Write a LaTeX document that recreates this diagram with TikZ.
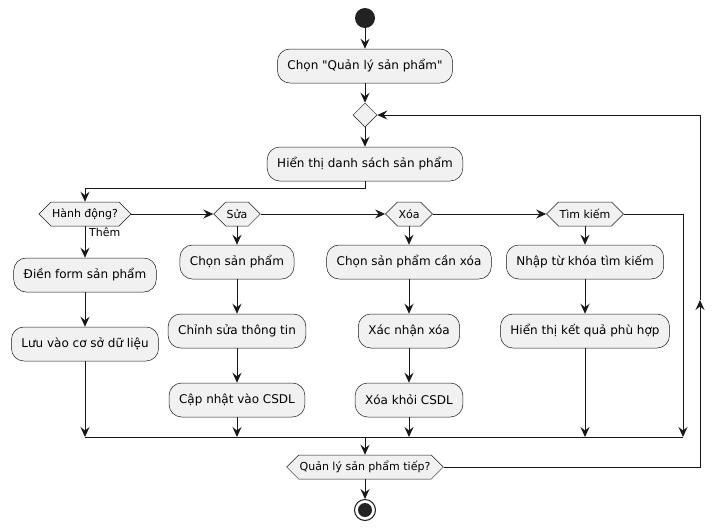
\documentclass[tikz,border=0pt]{standalone}
\usepackage{fontspec}
\setmainfont{DejaVu Sans}
\newfontfamily\plainfont{DejaVu Sans}
\usetikzlibrary{shapes.symbols,shapes.geometric,arrows.meta}
\definecolor{linec}{HTML}{181818}
\definecolor{boxc}{HTML}{F1F1F1}
\definecolor{dotc}{HTML}{222222}
\begin{document}
\begin{tikzpicture}[x=1pt,y=-1pt,
  act/.style={draw=linec, fill=boxc, rounded corners=12.5pt, minimum height=34pt, inner xsep=10pt, inner ysep=0pt, line width=0.5pt, font=\fontsize{12}{14}\selectfont},
  dec/.style={signal, signal to=east and west, signal pointer angle=90, draw=linec, fill=boxc, minimum height=24pt, inner xsep=1pt, inner ysep=0pt, line width=0.5pt, font=\fontsize{11}{13}\selectfont},
  arr/.style={-{Stealth[length=10pt,width=9pt,inset=3.5pt]}, draw=linec, line width=1pt},
  ln/.style={draw=linec, line width=1pt},
  lbl/.style={font=\fontsize{11}{13}\selectfont, inner sep=0pt}]
\useasboundingbox (0,0) rectangle (726,531);
\fill[white] (0,0) rectangle (726,531);

\node[circle, fill=dotc, minimum size=20pt, inner sep=0pt] (start) at (365,18) {};
\node[act, font=\fontsize{12}{14}\plainfont] (c1) at (365,66) {Chọn "Quản lý sản phẩm"};
\node[diamond, draw=linec, fill=boxc, line width=0.5pt, minimum size=24pt, inner sep=0pt] (m) at (365,115) {};
\node[act] (h) at (365,164) {Hiển thị danh sách sản phẩm};

\node[dec] (d1) at (85,214) {Hành động?};
\node[dec] (d2) at (237,214) {Sửa};
\node[dec] (d3) at (409,214) {Xóa};
\node[dec] (d4) at (585,214) {Tìm kiếm};
\node[lbl, anchor=west] (them) at (89,232) {Thêm};

\node[act] (a1) at (85,275) {Điền form sản phẩm};
\node[act] (a2) at (85,344) {Lưu vào cơ sở dữ liệu};
\node[act] (b1) at (237,262) {Chọn sản phẩm};
\node[act] (b2) at (237,331) {Chỉnh sửa thông tin};
\node[act] (b3) at (237,400) {Cập nhật vào CSDL};
\node[act] (x1) at (409,262) {Chọn sản phẩm cần xóa};
\node[act] (x2) at (409,331) {Xác nhận xóa};
\node[act] (x3) at (409,400) {Xóa khỏi CSDL};
\node[act] (t1) at (585,262) {Nhập từ khóa tìm kiếm};
\node[act] (t2) at (585,331) {Hiển thị kết quả phù hợp};

\node[dec] (q) at (365,467) {Quản lý sản phẩm tiếp?};
\node[circle, draw=linec, fill=white, line width=1pt, minimum size=21pt, inner sep=0pt] (end) at (365,510) {};
\fill[dotc] (end.center) circle (7pt);

\coordinate (barL) at (85,437);
\coordinate (barR) at (683,437);
\coordinate (barM) at (365,437);
\coordinate (hb) at (365,188);
\coordinate (d4r) at (683,214);
\coordinate (lp1) at (700,467);
\coordinate (lp2) at (700,300);
\coordinate (lp3) at (700,115);

\draw[arr] (start) -- (c1);
\draw[arr] (c1) -- (m);
\draw[arr] (m) -- (h);
\draw[arr] (h.south) -- (hb) -| (d1.north);
\draw[arr] (d1.east) -- (d2.west);
\draw[arr] (d2.east) -- (d3.west);
\draw[arr] (d3.east) -- (d4.west);
\draw[arr] (d4.east) -- (d4r) -- (barR);

\draw[arr] (d1.south) -- (a1.north);
\draw[arr] (a1) -- (a2);
\draw[arr] (a2.south) -- (barL);
\draw[arr] (d2.south) -- (b1.north);
\draw[arr] (b1) -- (b2);
\draw[arr] (b2) -- (b3);
\draw[arr] (b3.south) -- (b3.south |- barL);
\draw[arr] (d3.south) -- (x1.north);
\draw[arr] (x1) -- (x2);
\draw[arr] (x2) -- (x3);
\draw[arr] (x3.south) -- (x3.south |- barL);
\draw[arr] (d4.south) -- (t1.north);
\draw[arr] (t1) -- (t2);
\draw[arr] (t2.south) -- (t2.south |- barL);

\draw[ln] (barL) -- (barR);
\draw[arr] (barM) -- (q.north);
\draw[arr] (q.south) -- (end);

\draw[arr] (q.east) -- (lp1) -- (lp2);
\draw[arr] (lp2) -- (lp3) -- (m.east);
\end{tikzpicture}
\end{document}
